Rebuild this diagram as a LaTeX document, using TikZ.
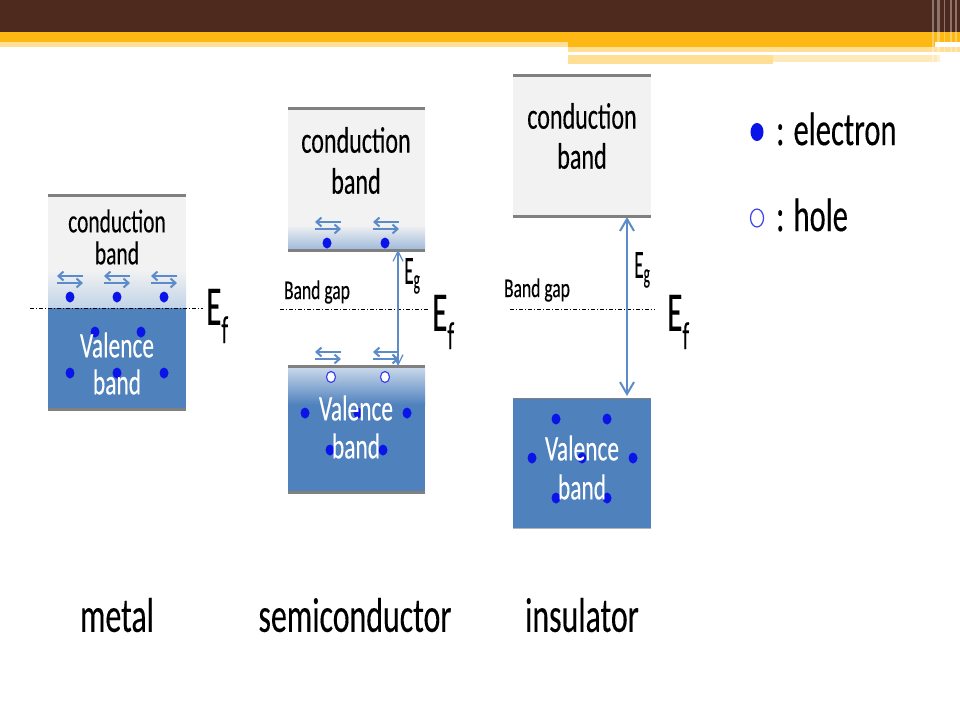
\documentclass[tikz,border=0pt]{standalone}
\usepackage{fontspec}
\setmainfont{Carlito}[FakeStretch=0.65, FakeBold=0.2]
\usetikzlibrary{arrows.meta}

\definecolor{slidebrown}{HTML}{4E2A1E}
\definecolor{slidegold}{HTML}{FDB813}
\definecolor{bandblue}{HTML}{4F81BD}
\definecolor{bandgray}{HTML}{F2F2F2}
\definecolor{edgegray}{HTML}{808080}
\definecolor{electronblue}{HTML}{0A14E8}
\definecolor{driftblue}{HTML}{5B8BC9}

\newcommand{\fsize}[1]{\fontsize{#1}{#1}\selectfont}

\tikzset{
	electron/.style = {fill = electronblue},
	hole/.style = {draw = electronblue!80, fill = white, line width = 1.2pt},
	bandedge/.style = {draw = edgegray, line width = 3pt},
	gapline/.style = {black, line width = 0.7pt, dash pattern = on 4pt off 2pt on 1pt off 2pt},
	drift/.style = {driftblue, line width = 2pt, -{Straight Barb[length = 5pt, width = 9pt]}},
	condtext/.style = {font = \fsize{37}, inner sep = 0pt},
	valtext/.style = {font = \fsize{36}, text = white, inner sep = 0pt},
	eglabel/.style = {anchor = north west, inner sep = 0pt}
}

\begin{document}
\begin{tikzpicture}[x = 1pt, y = -1pt, > = {Straight Barb[length = 12pt, width = 14pt]}]

	\useasboundingbox (0, 0) rectangle (960, 720);
	\fill [white] (0, 0) rectangle (960, 720);

	% Slide banner

	\fill [slidebrown] (0, 0) rectangle (960, 32);
	\fill [slidegold] (0, 32) rectangle (960, 42);
	\fill [slidegold!45] (0, 42) rectangle (568, 47);
	\fill [slidegold] (568, 42) rectangle (935, 47);
	\fill [slidegold!45] (568, 47) rectangle (960, 52);
	\fill [slidegold!45] (568, 55) rectangle (773, 64);
	\fill [slidegold!30] (773, 55) rectangle (940, 62);
	\foreach \x/\w in {932/1.5, 937/3, 944/1, 950/2, 955/1.5}
		\fill [white, opacity = 0.35] (\x, 0) rectangle (\x + \w, 64);

	% Metal

	\fill [bandgray] (48, 196) rectangle (186, 270);
	\shade [top color = bandgray, bottom color = bandblue!35] (48, 270) rectangle (186, 308);
	\fill [bandblue] (48, 308) rectangle (186, 408);
	\draw [bandedge] (48, 195) -- (186, 195);
	\draw [bandedge] (48, 409) -- (186, 409);

	\foreach \p in {(70, 297), (117, 297), (164, 297), (95, 332), (141, 332), (70, 373), (117, 373), (164, 373)}
		\fill [electron] \p ellipse (4.5 and 5.5);
	\foreach \x in {70, 117, 164} {
		\draw [drift] (\x + 13, 276) -- (\x - 13, 276);
		\draw [drift] (\x - 13, 283) -- (\x + 13, 283);
	}

	\draw [gapline] (30, 308) -- (203, 308);

	\node [condtext, font = \fsize{33}] (metal-cb1) at (117, 221) {conduction};
	\node [condtext, font = \fsize{33}] (metal-cb2) at (117, 253) {band};
	\node [valtext] (metal-vb1) at (117, 345) {Valence};
	\node [valtext] (metal-vb2) at (117, 382) {band};
	\node [anchor = west, inner sep = 0pt] (metal-ef) at (206, 316) {\scalebox{0.86}[1]{\fsize{56}E\textsubscript{f}}};

	% Semiconductor

	\fill [bandgray] (288, 110) rectangle (425, 225);
	\shade [top color = bandgray, bottom color = bandblue!55] (288, 225) rectangle (425, 250);
	\foreach \p in {(327, 243), (385, 243)}
		\fill [electron] \p ellipse (4.5 and 5.5);
	\draw [bandedge] (288, 108) -- (425, 108);
	\draw [bandedge] (288, 250) -- (425, 250);

	\shade [top color = bandblue!30, bottom color = bandblue] (288, 367) rectangle (425, 405);
	\fill [bandblue] (288, 405) rectangle (425, 492);
	\draw [bandedge] (288, 366) -- (425, 366);
	\draw [bandedge] (288, 492) -- (425, 492);

	\foreach \x in {328, 386} {
		\draw [drift] (\x + 13, 222) -- (\x - 13, 222);
		\draw [drift] (\x - 13, 229) -- (\x + 13, 229);
		\draw [drift] (\x + 13, 352) -- (\x - 13, 352);
		\draw [drift] (\x - 13, 359) -- (\x + 13, 359);
	}
	\foreach \p in {(331, 377), (385, 377)}
		\draw [hole] \p ellipse (4.5 and 5.5);
	\foreach \p in {(305, 413), (407, 413), (358, 413), (330, 450), (383, 450)}
		\fill [electron] \p ellipse (4.5 and 5.5);

	\draw [gapline] (280, 309) -- (428, 309);

	\coordinate (semi-cb) at (398, 250);
	\coordinate (semi-vb) at (398, 366);
	\draw [<->, driftblue, line width = 1.2pt, > = {Straight Barb[length = 10pt, width = 10pt]}] (semi-cb) -- (semi-vb);

	\node [condtext] (semi-cb1) at (356, 140) {conduction};
	\node [condtext] (semi-cb2) at (356, 181) {band};
	\node [valtext] (semi-vb1) at (356, 408) {Valence};
	\node [valtext] (semi-vb2) at (356, 446) {band};
	\node [inner sep = 0pt, font = \fsize{27}] (semi-gap) at (317, 292) {Band gap};
	\node [eglabel] (semi-eg) at (404, 258) {\scalebox{0.74}[1]{\fsize{40}E\textsubscript{g}}};
	\node [anchor = west, inner sep = 0pt] (semi-ef) at (432, 322) {\scalebox{0.86}[1]{\fsize{56}E\textsubscript{f}}};

	% Insulator

	\fill [bandgray] (513, 77) rectangle (651, 215);
	\draw [bandedge] (513, 75) -- (651, 75);
	\draw [bandedge] (513, 216) -- (651, 216);

	\fill [bandblue] (513, 398) rectangle (651, 528);
	\draw [edgegray, line width = 1.5pt] (513, 398.5) -- (651, 398.5);
	\draw [edgegray!60, line width = 1pt] (513, 528) -- (651, 528);

	\foreach \p in {(556, 419), (607, 419), (532, 458), (582, 458), (633, 458), (556, 498), (607, 498)}
		\fill [electron] \p ellipse (4.5 and 5.5);

	\draw [gapline] (510, 309) -- (655, 309);

	\coordinate (ins-cb) at (627, 217);
	\coordinate (ins-vb) at (627, 396);
	\draw [<->, driftblue, line width = 2pt] (ins-cb) -- (ins-vb);

	\node [condtext] (ins-cb1) at (582, 116) {conduction};
	\node [condtext] (ins-cb2) at (582, 156) {band};
	\node [valtext] (ins-vb1) at (582, 448) {Valence};
	\node [valtext] (ins-vb2) at (582, 487) {band};
	\node [inner sep = 0pt, font = \fsize{27}] (ins-gap) at (537, 290) {Band gap};
	\node [eglabel] (ins-eg) at (634, 252) {\scalebox{0.74}[1]{\fsize{40}E\textsubscript{g}}};
	\node [anchor = west, inner sep = 0pt] (ins-ef) at (667, 322) {\scalebox{0.86}[1]{\fsize{56}E\textsubscript{f}}};

	% Legend

	\fill [electron] (757, 132) ellipse (6.5 and 9);
	\node [anchor = west, inner sep = 0pt, font = \fsize{47}] (key-e) at (776, 129) {: electron};
	\draw [hole] (757, 218) ellipse (6.5 and 9);
	\node [anchor = west, inner sep = 0pt, font = \fsize{47}] (key-h) at (776, 215) {: hole};

	% Material names

	\begin{scope}[font = \fsize{49}, inner sep = 0pt]
		\node (name-metal) at (117, 615) {metal};
		\node (name-semi) at (355, 615) {semiconductor};
		\node (name-ins) at (582, 615) {insulator};
	\end{scope}

\end{tikzpicture}
\end{document}
